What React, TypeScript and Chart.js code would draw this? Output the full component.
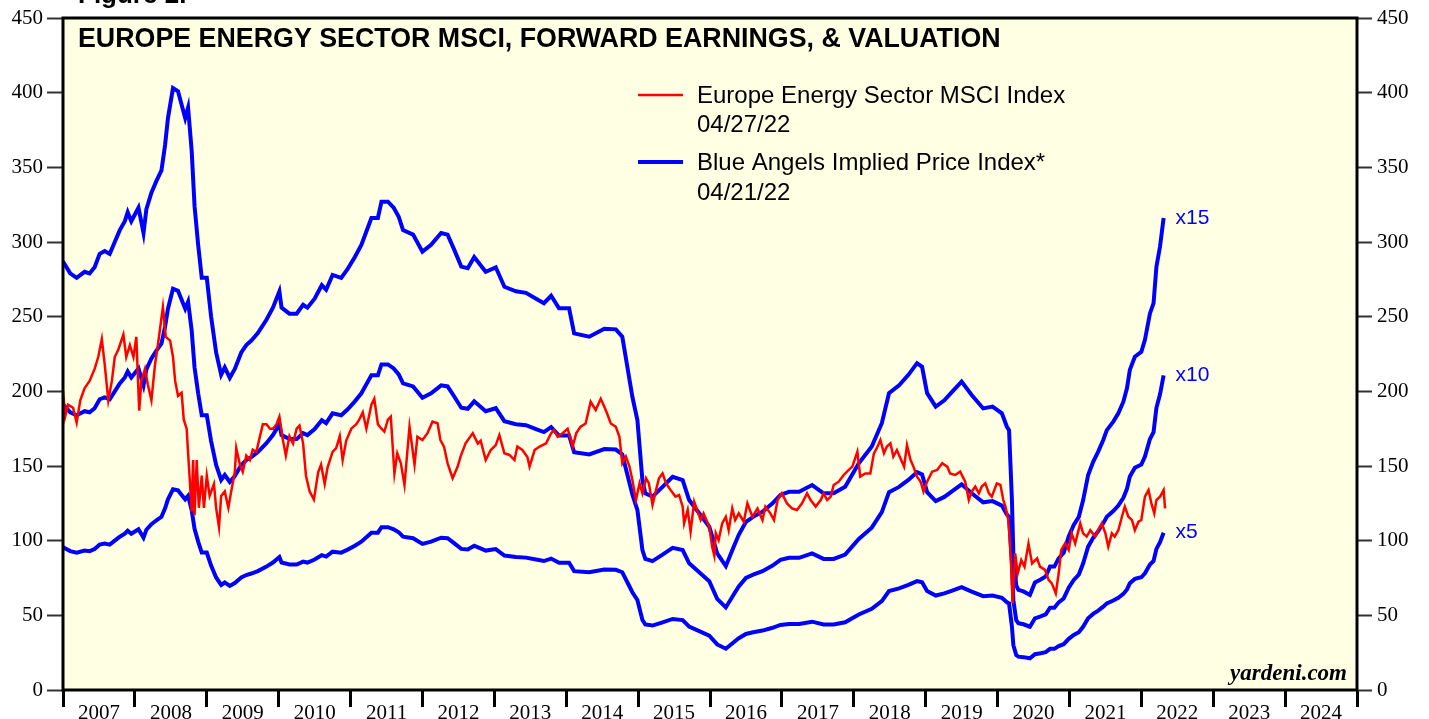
import React, { useEffect, useRef } from "react";
import { Chart, registerables } from "chart.js";

Chart.register(...registerables);

// ---------- DATA ----------
const epsDates = [
  2007.0, 2007.1, 2007.19, 2007.3, 2007.37, 2007.44, 2007.51, 2007.58, 2007.65, 2007.72,
  2007.79, 2007.86, 2007.9, 2007.95, 2008.05, 2008.12, 2008.16, 2008.23, 2008.3, 2008.37,
  2008.42, 2008.46, 2008.53, 2008.6, 2008.65, 2008.7, 2008.74, 2008.79, 2008.83, 2008.88,
  2008.93, 2009.0, 2009.06, 2009.13, 2009.2, 2009.25, 2009.32, 2009.39, 2009.48, 2009.55,
  2009.62, 2009.71, 2009.83, 2009.92, 2010.01, 2010.04, 2010.15, 2010.25, 2010.34, 2010.4,
  2010.5, 2010.6, 2010.66, 2010.75, 2010.87, 2010.96, 2011.06, 2011.15, 2011.22, 2011.29,
  2011.38, 2011.43, 2011.52, 2011.6, 2011.67, 2011.73, 2011.87, 2012.0, 2012.12, 2012.26,
  2012.35, 2012.44, 2012.54, 2012.63, 2012.72, 2012.88, 2013.02, 2013.14, 2013.3, 2013.44,
  2013.58, 2013.69, 2013.79, 2013.9, 2014.04, 2014.11, 2014.32, 2014.53, 2014.69, 2014.78,
  2014.85, 2014.92, 2014.99, 2015.06, 2015.1, 2015.2, 2015.34, 2015.48, 2015.62, 2015.71,
  2015.85, 2015.99, 2016.1, 2016.22, 2016.33, 2016.4, 2016.5, 2016.6, 2016.73, 2016.87,
  2016.98, 2017.1, 2017.24, 2017.42, 2017.58, 2017.72, 2017.88, 2018.07, 2018.25, 2018.39,
  2018.49, 2018.63, 2018.76, 2018.88, 2018.95, 2019.02, 2019.14, 2019.26, 2019.37, 2019.5,
  2019.64, 2019.8, 2019.93, 2020.06, 2020.13, 2020.16, 2020.2, 2020.22, 2020.26, 2020.29,
  2020.36, 2020.45, 2020.52, 2020.6, 2020.67, 2020.73, 2020.79, 2020.85, 2020.92, 2020.99,
  2021.06, 2021.13, 2021.19, 2021.26, 2021.33, 2021.4, 2021.47, 2021.52, 2021.61, 2021.68,
  2021.75, 2021.8, 2021.84, 2021.91, 2022.0, 2022.05, 2022.12, 2022.17, 2022.21, 2022.26,
  2022.31,
];

// Forward earnings (index points)
const forwardEarnings = [
  19.13, 18.6, 18.4, 18.67, 18.6, 18.87, 19.47, 19.6, 19.47, 20.0,
  20.53, 20.93, 21.33, 20.93, 21.53, 20.4, 21.47, 22.2, 22.73, 23.2,
  24.33, 25.53, 26.87, 26.73, 26.13, 25.53, 26.0, 24.07, 21.6, 19.87,
  18.4, 18.4, 16.67, 15.07, 14.07, 14.4, 13.93, 14.33, 15.07, 15.4,
  15.6, 15.93, 16.53, 17.07, 17.8, 17.07, 16.8, 16.8, 17.2, 17.07,
  17.47, 18.07, 17.87, 18.53, 18.4, 18.8, 19.33, 19.87, 20.47, 21.07,
  21.07, 21.8, 21.8, 21.53, 21.13, 20.53, 20.33, 19.57, 19.87, 20.4,
  20.33, 19.67, 18.9, 18.83, 19.33, 18.67, 18.87, 18.0, 17.8, 17.73,
  17.47, 17.27, 17.6, 17.04, 17.04, 15.92, 15.77, 16.13, 16.1, 15.77,
  14.43, 13.09, 12.05, 9.37, 8.78, 8.63, 9.07, 9.52, 9.37, 8.48,
  7.89, 7.29, 6.1, 5.53, 6.4, 6.93, 7.51, 7.73, 7.96, 8.33,
  8.71, 8.85, 8.85, 9.15, 8.78, 8.78, 9.07, 10.12, 10.87, 11.91,
  13.25, 13.6, 14.07, 14.59, 14.43, 13.25, 12.65, 12.93, 13.32, 13.77,
  13.17, 12.57, 12.65, 12.35, 11.75, 11.6, 8.47, 6.0, 4.67, 4.47,
  4.4, 4.24, 4.8, 4.93, 5.07, 5.51, 5.51, 5.87, 6.13, 6.85,
  7.37, 7.73, 8.47, 9.6, 10.19, 10.64, 11.16, 11.6, 11.98, 12.35,
  12.87, 13.47, 14.29, 14.88, 15.1, 15.63, 16.81, 17.27, 18.9, 19.8,
  21.07,
];

const peMultiples = [15, 10, 5];
const multipleLabels = ["x15", "x10", "x5"];

const msciDates = [
  2007.0, 2007.03, 2007.07, 2007.14, 2007.19, 2007.24, 2007.3, 2007.37, 2007.44, 2007.49,
  2007.54, 2007.58, 2007.63, 2007.68, 2007.72, 2007.77, 2007.84, 2007.88, 2007.93, 2007.98,
  2008.02, 2008.06, 2008.09, 2008.14, 2008.18, 2008.23, 2008.28, 2008.32, 2008.39, 2008.43,
  2008.49, 2008.53, 2008.56, 2008.6, 2008.65, 2008.68, 2008.72, 2008.74, 2008.76, 2008.79,
  2008.81, 2008.83, 2008.86, 2008.89, 2008.93, 2008.96, 2009.0, 2009.04, 2009.1, 2009.13,
  2009.17, 2009.2, 2009.25, 2009.3, 2009.34, 2009.39, 2009.41, 2009.46, 2009.5, 2009.55,
  2009.6, 2009.64, 2009.69, 2009.74, 2009.78, 2009.83, 2009.88, 2009.92, 2009.97, 2010.01,
  2010.06, 2010.1, 2010.15, 2010.2, 2010.25, 2010.29, 2010.34, 2010.38, 2010.43, 2010.49,
  2010.55, 2010.59, 2010.64, 2010.68, 2010.75, 2010.8, 2010.85, 2010.89, 2010.94, 2011.01,
  2011.08, 2011.12, 2011.17, 2011.22, 2011.29, 2011.33, 2011.38, 2011.43, 2011.47, 2011.52,
  2011.56, 2011.61, 2011.65, 2011.7, 2011.75, 2011.82, 2011.89, 2011.93, 2012.0, 2012.07,
  2012.14, 2012.21, 2012.25, 2012.3, 2012.35, 2012.42, 2012.49, 2012.53, 2012.6, 2012.7,
  2012.77, 2012.81, 2012.88, 2012.95, 2013.02, 2013.07, 2013.14, 2013.21, 2013.28, 2013.32,
  2013.39, 2013.46, 2013.49, 2013.56, 2013.63, 2013.72, 2013.79, 2013.83, 2013.88, 2013.95,
  2014.02, 2014.09, 2014.14, 2014.2, 2014.27, 2014.34, 2014.41, 2014.48, 2014.53, 2014.57,
  2014.62, 2014.69, 2014.74, 2014.78, 2014.83, 2014.88, 2014.92, 2014.97, 2015.02, 2015.06,
  2015.11, 2015.15, 2015.2, 2015.25, 2015.29, 2015.34, 2015.39, 2015.45, 2015.52, 2015.57,
  2015.62, 2015.64, 2015.69, 2015.73, 2015.78, 2015.82, 2015.87, 2015.91, 2015.99, 2016.03,
  2016.06, 2016.08, 2016.12, 2016.17, 2016.22, 2016.26, 2016.31, 2016.35, 2016.4, 2016.47,
  2016.52, 2016.59, 2016.66, 2016.73, 2016.77, 2016.84, 2016.89, 2016.94, 2017.0, 2017.07,
  2017.14, 2017.21, 2017.28, 2017.35, 2017.4, 2017.47, 2017.54, 2017.58, 2017.63, 2017.68,
  2017.72, 2017.79, 2017.86, 2017.93, 2017.98, 2018.05, 2018.09, 2018.16, 2018.23, 2018.28,
  2018.32, 2018.37, 2018.42, 2018.46, 2018.51, 2018.55, 2018.6, 2018.65, 2018.7, 2018.74,
  2018.79, 2018.83, 2018.88, 2018.93, 2018.97, 2019.02, 2019.09, 2019.16, 2019.23, 2019.3,
  2019.34, 2019.41, 2019.48, 2019.55, 2019.6, 2019.64, 2019.69, 2019.74, 2019.78, 2019.83,
  2019.88, 2019.92, 2019.99, 2020.04, 2020.08, 2020.11, 2020.15, 2020.17, 2020.19, 2020.21,
  2020.245, 2020.28, 2020.33, 2020.375, 2020.43, 2020.48, 2020.55, 2020.59, 2020.66, 2020.71,
  2020.755, 2020.81, 2020.85, 2020.885, 2020.94, 2020.99, 2021.03, 2021.08, 2021.15, 2021.19,
  2021.24, 2021.29, 2021.36, 2021.4, 2021.45, 2021.5, 2021.54, 2021.59, 2021.63, 2021.68,
  2021.73, 2021.77, 2021.82, 2021.87, 2021.91, 2021.96, 2022.0, 2022.05, 2022.1, 2022.14,
  2022.18, 2022.21, 2022.26, 2022.31, 2022.33,
];

const msciIndex = [
  200.6, 183, 191, 189, 179, 194, 202, 207, 215, 223,
  235, 218, 194, 207, 223, 228, 238, 223, 231, 223,
  236.5, 187, 207, 215, 204.6, 194, 218, 231, 256.5, 236.5,
  234, 223, 207, 197, 199, 181, 175, 159, 143.5, 119.6,
  154, 117, 154, 122, 143.5, 122, 143.5, 130, 138, 122,
  109, 130, 133, 122, 133, 146, 162, 151, 146, 157,
  154, 161, 159.5, 170, 178, 178, 175, 175, 178, 183,
  167, 157, 170, 165, 175, 177, 165, 143.5, 133, 127.5,
  146, 151, 138, 149, 159.5, 162, 170, 154, 167, 175,
  178, 181, 186, 175, 191, 195, 178, 175, 173, 181,
  183, 145, 158.5, 151.8, 137.3, 176.3, 151, 169.6, 167.4, 172,
  179.7, 178.6, 167.4, 163, 151.8, 141.8, 149.6, 156.3, 165.2, 172,
  165, 167, 154, 160.7, 164, 170.7, 158.5, 157.4, 154, 163,
  160.7, 156, 149.6, 160.7, 163, 165.2, 172, 174, 169.6, 172,
  175, 163, 172, 176.3, 178.5, 193, 187.5, 195, 189.7, 185,
  178.5, 176.3, 169.6, 151.8, 156.3, 149.6, 140.6, 127.2, 138.4, 131.7,
  141.8, 138.4, 123.9, 134, 141.8, 145, 138.4, 134, 129.5, 130.6,
  122.8, 111.6, 120.6, 106, 126.1, 120.6, 113.9, 118.3, 109.4, 96,
  90, 105, 100.4, 111.6, 116, 107, 121.6, 113.8, 118.3, 112.7,
  125, 116, 121.6, 113.8, 122.8, 118.3, 113.8, 127.2, 131.7, 125,
  121.6, 120.5, 125, 131.7, 127.2, 122.8, 127.2, 131.7, 127.2, 129.5,
  137.3, 139.5, 144, 147.4, 149.6, 159.6, 142.9, 145, 145, 158.5,
  161.9, 167.4, 158.5, 163, 165.2, 156.3, 160.7, 155, 149.6, 164,
  154, 149.6, 142.9, 139.5, 132.8, 139.5, 146.2, 147.3, 151.8, 149.6,
  145, 144, 146.2, 139.5, 127.2, 132.8, 136.2, 131.7, 136.2, 138.4,
  131.7, 129.5, 138.4, 137.3, 127.2, 122.8, 113.9, 100, 82.6, 58,
  91.5, 78, 87, 82.6, 98, 84.8, 88.2, 82.6, 80.4, 73.7,
  71.4, 64.7, 78, 93.7, 98.2, 93.7, 104.9, 98.2, 111.6, 104.9,
  102.7, 107, 102.7, 107, 111.6, 104.9, 96, 104.9, 102.7, 107,
  116, 122.8, 116, 113.8, 107, 112.7, 113.8, 129.5, 133.9, 125,
  118.3, 127.2, 129.5, 133.9, 121.6,
];

const yearLabels = [
  2007, 2008, 2009, 2010, 2011, 2012, 2013, 2014, 2015,
  2016, 2017, 2018, 2019, 2020, 2021, 2022, 2023, 2024,
];
const xTickPositions = [...yearLabels, 2025];
const yTickValues = [0, 50, 100, 150, 200, 250, 300, 350, 400, 450];

const titleText = "EUROPE ENERGY SECTOR MSCI, FORWARD EARNINGS, & VALUATION";
const figureText = "Figure 2.";
const legendNames = ["Europe Energy Sector MSCI Index", "Blue Angels Implied Price Index*"];
const legendDates = ["04/27/22", "04/21/22"];
const sourceText = "yardeni.com";

// ---------- STYLE ----------
const RED = "#ff0000";
const BLUE = "#0000ff";
const BG = "#ffffe3";
const SERIF = '"Liberation Serif", "Times New Roman", serif';
const SANS = '"Liberation Sans", Arial, sans-serif';

export default function App() {
  const ref = useRef<HTMLCanvasElement | null>(null);

  useEffect(() => {
    document.body.style.margin = "0";
    const canvas = ref.current;
    if (!canvas) return;

    const blueSets = peMultiples.map((m) => ({
      label: "x" + m,
      data: epsDates.map((d, i) => ({ x: d, y: forwardEarnings[i] * m })),
      borderColor: BLUE,
      borderWidth: 4,
      pointRadius: 0,
      tension: 0,
      fill: false,
      yAxisID: "y",
    }));

    const redSet = {
      label: legendNames[0],
      data: msciDates.map((d, i) => ({ x: d, y: msciIndex[i] })),
      borderColor: RED,
      borderWidth: 2.5,
      pointRadius: 0,
      tension: 0,
      fill: false,
      yAxisID: "y",
    };

    const decor = {
      id: "decor",
      beforeDraw(chart: any) {
        const { ctx, chartArea: a } = chart;
        ctx.save();
        ctx.fillStyle = BG;
        ctx.fillRect(a.left, a.top, a.right - a.left, a.bottom - a.top);
        ctx.restore();
      },
      afterDraw(chart: any) {
        const { ctx, chartArea: a } = chart;
        const xs = chart.scales.x;
        const ys = chart.scales.y;
        ctx.save();
        // frame
        ctx.strokeStyle = "#000";
        ctx.lineWidth = 3;
        ctx.strokeRect(a.left, a.top, a.right - a.left, a.bottom - a.top);

        // figure caption (cut at top)
        ctx.fillStyle = "#000";
        ctx.textBaseline = "alphabetic";
        ctx.textAlign = "left";
        ctx.font = `bold 26px ${SANS}`;
        ctx.fillText(figureText, 78, 3);

        // title
        ctx.font = `bold 26.8px ${SANS}`;
        ctx.fillText(titleText, 78, 47);

        // legend
        ctx.font = `24px ${SANS}`;
        ctx.lineCap = "butt";
        ctx.strokeStyle = RED;
        ctx.lineWidth = 2.5;
        ctx.beginPath();
        ctx.moveTo(638, 95);
        ctx.lineTo(683, 95);
        ctx.stroke();
        ctx.fillStyle = "#000";
        ctx.fillText(legendNames[0], 697, 103);
        ctx.fillText(legendDates[0], 697, 132);
        ctx.strokeStyle = BLUE;
        ctx.lineWidth = 4;
        ctx.beginPath();
        ctx.moveTo(638, 162);
        ctx.lineTo(683, 162);
        ctx.stroke();
        ctx.fillText(legendNames[1], 697, 170);
        ctx.fillText(legendDates[1], 697, 200);

        // multiple labels at the end of each blue line
        ctx.font = `21px ${SANS}`;
        ctx.fillStyle = BLUE;
        ctx.textBaseline = "middle";
        const last = epsDates.length - 1;
        peMultiples.forEach((m, k) => {
          const px = xs.getPixelForValue(epsDates[last]) + 12;
          const py = ys.getPixelForValue(forwardEarnings[last] * m);
          ctx.fillText(multipleLabels[k], px, py);
        });

        // source
        ctx.fillStyle = "#000";
        ctx.textAlign = "right";
        ctx.textBaseline = "alphabetic";
        ctx.font = `italic bold 23px ${SERIF}`;
        ctx.fillText(sourceText, a.right - 10, a.bottom - 10);
        ctx.restore();
      },
    };

    const yAxisBase = (position: string, width: number, tickLen: number, pad: number) => ({
      type: "linear",
      position,
      min: 0,
      max: 450,
      afterBuildTicks: (s: any) => {
        s.ticks = yTickValues.map((v) => ({ value: v }));
      },
      afterFit: (s: any) => {
        s.width = width;
      },
      ticks: {
        padding: pad,
        color: "#000",
        font: { family: SERIF, size: 21 },
      },
      grid: {
        drawOnChartArea: false,
        drawTicks: true,
        tickLength: tickLen,
        tickColor: "#333",
        tickWidth: 2,
      },
      border: { display: false },
    });

    const chart = new Chart(canvas, {
      type: "line",
      data: { datasets: [redSet, ...blueSets] as any },
      options: {
        animation: false,
        responsive: false,
        devicePixelRatio: 1,
        layout: { padding: { top: 18, left: 0, right: 0, bottom: 0 } },
        plugins: { legend: { display: false }, tooltip: { enabled: false } },
        scales: {
          x: {
            type: "linear",
            position: "bottom",
            min: 2007,
            max: 2025,
            afterBuildTicks: (s: any) => {
              s.ticks = xTickPositions.map((v) => ({ value: v }));
            },
            afterFit: (s: any) => {
              s.height = 29;
            },
            ticks: {
              autoSkip: false,
              maxRotation: 0,
              minRotation: 0,
              labelOffset: 36,
              padding: -6,
              color: "#000",
              font: { family: SERIF, size: 21 },
              callback: (_v: any, i: number) =>
                i < yearLabels.length ? String(yearLabels[i]) : "",
            },
            grid: {
              drawOnChartArea: false,
              drawTicks: true,
              tickLength: 17,
              tickColor: "#000",
              tickWidth: 3,
            },
            border: { display: false },
          },
          y: yAxisBase("left", 63, 16, 4),
          y2: yAxisBase("right", 72, 15, 5),
        } as any,
      },
      plugins: [decor],
    });

    return () => chart.destroy();
  }, []);

  return (
    <div style={{ width: 1429, height: 719, position: "relative" }}>
      <canvas ref={ref} width={1429} height={719} style={{ display: "block" }} />
    </div>
  );
}
